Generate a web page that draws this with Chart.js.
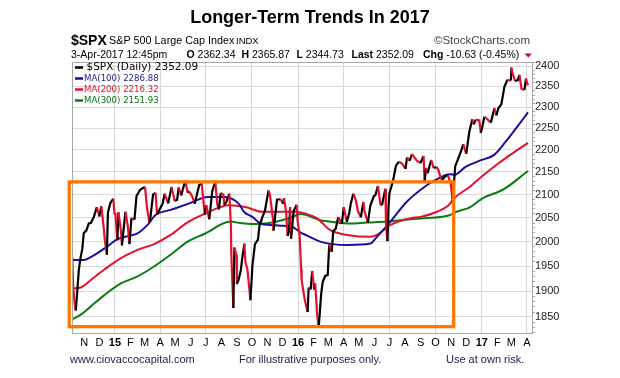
<!DOCTYPE html>
<html><head><meta charset="utf-8">
<script src="https://cdn.jsdelivr.net/npm/chart.js@4.4.1/dist/chart.umd.min.js"></script>
<style>html,body{margin:0;padding:0;background:#fff}#wrap{width:620px;height:378px;position:relative}canvas{display:block}</style>
</head><body><div id="wrap"><canvas id="c" width="620" height="378"></canvas></div>
<script>
// ---------- DATA ----------
const priceDates = ['2014-10-08','2014-10-10','2014-10-13','2014-10-15','2014-10-17','2014-10-21','2014-10-24','2014-10-28','2014-10-31','2014-11-05','2014-11-10','2014-11-14','2014-11-20','2014-11-26','2014-12-01','2014-12-05','2014-12-10','2014-12-12','2014-12-16','2014-12-18','2014-12-23','2014-12-29','2014-12-31',
'2015-01-02','2015-01-06','2015-01-08','2015-01-13','2015-01-15','2015-01-22','2015-01-27','2015-01-30','2015-02-03','2015-02-09','2015-02-13','2015-02-20','2015-02-25','2015-03-02','2015-03-06','2015-03-11','2015-03-13','2015-03-18','2015-03-23','2015-03-26','2015-03-31','2015-04-06','2015-04-10','2015-04-17','2015-04-24','2015-04-30','2015-05-05','2015-05-08','2015-05-13','2015-05-21','2015-05-26','2015-05-29','2015-06-04','2015-06-09','2015-06-12','2015-06-18','2015-06-23','2015-06-29','2015-07-02','2015-07-08','2015-07-14','2015-07-20','2015-07-24','2015-07-27','2015-07-31','2015-08-05','2015-08-07','2015-08-11','2015-08-17','2015-08-20','2015-08-21','2015-08-24','2015-08-25','2015-08-27','2015-08-31','2015-09-01','2015-09-04','2015-09-09','2015-09-11','2015-09-16','2015-09-18','2015-09-22','2015-09-28','2015-10-02','2015-10-07','2015-10-13','2015-10-16','2015-10-22','2015-10-27','2015-11-03','2015-11-06','2015-11-12','2015-11-13','2015-11-20','2015-11-27','2015-12-02','2015-12-04','2015-12-08','2015-12-11','2015-12-14','2015-12-16','2015-12-18','2015-12-23','2015-12-29','2015-12-31',
'2016-01-04','2016-01-07','2016-01-08','2016-01-13','2016-01-15','2016-01-20','2016-01-22','2016-01-26','2016-01-29','2016-02-02','2016-02-04','2016-02-08','2016-02-11','2016-02-16','2016-02-19','2016-02-24','2016-02-29','2016-03-03','2016-03-08','2016-03-11','2016-03-16','2016-03-21','2016-03-28','2016-04-01','2016-04-07','2016-04-12','2016-04-15','2016-04-20','2016-04-25','2016-04-29','2016-05-05','2016-05-10','2016-05-12','2016-05-19','2016-05-24','2016-05-31','2016-06-03','2016-06-08','2016-06-13','2016-06-16','2016-06-23','2016-06-24','2016-06-27','2016-06-29','2016-07-01','2016-07-08','2016-07-14','2016-07-20','2016-07-26','2016-08-02','2016-08-05','2016-08-10','2016-08-15','2016-08-19','2016-08-25','2016-09-01','2016-09-07','2016-09-09','2016-09-12','2016-09-15','2016-09-22','2016-09-27','2016-10-03','2016-10-07','2016-10-11','2016-10-14','2016-10-21','2016-10-25','2016-10-31','2016-11-04','2016-11-07','2016-11-09','2016-11-15','2016-11-21','2016-11-25','2016-12-01','2016-12-07','2016-12-13','2016-12-16','2016-12-20','2016-12-27','2016-12-30',
'2017-01-03','2017-01-06','2017-01-12','2017-01-19','2017-01-26','2017-01-30','2017-02-03','2017-02-09','2017-02-15','2017-02-21','2017-02-28','2017-03-01','2017-03-03','2017-03-08','2017-03-14','2017-03-17','2017-03-21','2017-03-27','2017-03-30','2017-03-31','2017-04-03'];
const priceValues = [1968,1906,1874,1862,1886,1941,1964,1985,2018,2023,2038,2039,2052,2073,2053,2075,2026,2002,1973,2061,2082,2091,2059,
2058,2003,2062,2023,1992,2063,2030,1995,2050,2046,2097,2110,2114,2117,2071,2040,2053,2100,2104,2057,2068,2080,2102,2081,2117,2086,2089,2116,2098,2131,2104,2107,2096,2080,2094,2121,2124,2057,2077,2047,2108,2128,2079,2068,2104,2100,2078,2084,2102,2035,1971,1893,1867,1988,1972,1914,1921,1942,1961,1996,1958,1943,1882,1951,1995,2004,2033,2052,2066,2109,2099,2046,2023,2089,2090,2080,2092,2063,2012,2022,2073,2006,2064,2078,2044,
2013,1943,1922,1890,1880,1859,1907,1903,1940,1903,1915,1854,1829,1895,1918,1930,1932,1994,1979,2022,2027,2052,2037,2073,2041,2061,2081,2102,2088,2065,2051,2084,2065,2040,2077,2097,2099,2119,2079,2077,2113,2037,2001,2071,2103,2130,2164,2173,2169,2157,2183,2175,2190,2184,2175,2170,2186,2128,2159,2147,2177,2159,2161,2153,2136,2133,2141,2143,2126,2085,2132,2163,2180,2198,2213,2191,2241,2271,2259,2270,2268,2239,
2258,2277,2271,2263,2297,2280,2297,2307,2349,2366,2364,2396,2383,2363,2365,2378,2344,2341,2369,2363,2352];

const ma100Dates = ['2014-10-08','2014-10-31','2014-11-14','2014-12-17','2015-01-06','2015-01-29','2015-02-15','2015-03-07','2015-03-23','2015-04-22','2015-06-01','2015-07-04','2015-08-07','2015-09-05','2015-09-15','2015-10-02','2015-10-18','2015-11-07','2015-12-03','2015-12-20','2016-01-06','2016-01-16','2016-02-14','2016-04-08','2016-05-24','2016-06-06','2016-07-03','2016-08-05','2016-09-14','2016-09-30','2016-10-30','2016-11-08','2016-11-29','2017-01-01','2017-01-25','2017-02-17','2017-03-09','2017-04-03'];
const ma100Values = [1962,1962,1968,1990,2005,2012,2017,2035,2056,2067,2082,2095,2095,2080,2063,2052,2038,2035,2033,2031,2019,2014,2000,1993,1996,2010,2042,2085,2121,2132,2145,2144,2161,2177,2188,2218,2248,2287];

const ma200Dates = ['2014-10-08','2014-10-25','2014-11-14','2014-12-11','2015-01-13','2015-02-15','2015-03-20','2015-04-22','2015-05-25','2015-06-30','2015-08-16','2015-09-18','2015-10-21','2015-11-23','2015-12-27','2016-01-16','2016-02-08','2016-03-05','2016-04-08','2016-05-24','2016-06-06','2016-07-03','2016-08-12','2016-09-01','2016-10-04','2016-10-27','2016-11-08','2016-12-09','2017-01-01','2017-02-04','2017-03-03','2017-04-03'];
const ma200Values = [1905,1907,1922,1943,1966,1983,1995,2014,2040,2059,2077,2073,2063,2063,2063,2059,2049,2024,2014,2010,2014,2035,2049,2052,2063,2077,2093,2118,2140,2170,2192,2216];

const ma300Dates = ['2014-10-08','2014-10-25','2014-11-14','2014-12-11','2015-01-13','2015-02-15','2015-03-20','2015-04-22','2015-05-26','2015-06-30','2015-08-19','2015-09-08','2015-10-01','2015-11-04','2015-12-07','2015-12-27','2016-01-06','2016-02-14','2016-03-12','2016-04-14','2016-05-17','2016-06-26','2016-07-23','2016-09-07','2016-10-30','2016-11-09','2016-12-09','2017-01-01','2017-02-14','2017-04-03'];
const ma300Values = [1845,1854,1870,1892,1915,1929,1949,1973,2000,2017,2042,2039,2037,2039,2047,2055,2058,2045,2041,2038,2040,2042,2045,2049,2056,2062,2073,2091,2112,2152];

const yTicks = [1850,1900,1950,2000,2050,2100,2150,2200,2250,2300,2350,2400];
const monthTicks = ['2014-11','2014-12','2015-01','2015-02','2015-03','2015-04','2015-05','2015-06','2015-07','2015-08','2015-09','2015-10','2015-11','2015-12','2016-01','2016-02','2016-03','2016-04','2016-05','2016-06','2016-07','2016-08','2016-09','2016-10','2016-11','2016-12','2017-01','2017-02','2017-03','2017-04'];
const monthLabels = ['N','D','15','F','M','A','M','J','J','A','S','O','N','D','16','F','M','A','M','J','J','A','S','O','N','D','17','F','M','A'];
const xRangeDates = ['2014-10-08','2017-04-11'];
const highlightDates = ['2014-10-02','2016-11-06'];
const highlightValues = [1831,2128];

const titleText = 'Longer-Term Trends In 2017';
const legendTexts = ['$SPX (Daily) 2352.09','MA(100) 2286.88','MA(200) 2216.32','MA(300) 2151.93'];
const quoteItems = [['O','2362.34'],['H','2365.87'],['L','2344.73'],['Last','2352.09'],['Chg','-10.63 (-0.45%)']];
const footerTexts = ['www.ciovaccocapital.com','For illustrative purposes only.','Use at own risk.'];

// ---------- HELPERS ----------
const ORIGIN = Date.UTC(2014, 9, 1);
function dayNum(s) { const p = s.split('-').map(Number); return (Date.UTC(p[0], p[1]-1, p[2] || 1) - ORIGIN) / 864e5; }
const pts = (ds, vs) => ds.map((d, i) => ({ x: dayNum(d), y: vs[i] }));

const RED = '#e5102e', BLACK = '#000000', BLUE = '#1e0d98', GREEN = '#0b7d12', ORANGE = '#ff7600';
const FONT = '"Liberation Sans", Arial, sans-serif';

const decor = {
  id: 'decor',
  beforeDraw(chart) {
    const c = chart.ctx; c.save(); c.fillStyle = '#fff'; c.fillRect(0, 0, chart.width, chart.height); c.restore();
  },
  afterDatasetsDraw(chart) {
    const c = chart.ctx, a = chart.chartArea, xs = chart.scales.x, ys = chart.scales.y;
    c.save();
    c.strokeStyle = '#a8a8a8'; c.lineWidth = 1;
    c.strokeRect(Math.round(a.left) + 0.5, Math.round(a.top) + 0.5, Math.round(a.right - a.left), Math.round(a.bottom - a.top));
    c.beginPath();
    for (let v = 1820; v <= 2410; v += 10) {
      if (v % 50 === 0) continue;
      const y = Math.round(ys.getPixelForValue(v)) + 0.5;
      if (y < a.top || y > a.bottom) continue;
      c.moveTo(a.right, y); c.lineTo(a.right + 3, y);
    }
    c.stroke();
    const x0 = xs.getPixelForValue(dayNum(highlightDates[0])), x1 = xs.getPixelForValue(dayNum(highlightDates[1]));
    const y0 = ys.getPixelForValue(highlightValues[1]), y1 = ys.getPixelForValue(highlightValues[0]);
    c.strokeStyle = ORANGE; c.lineWidth = 3.3;
    c.strokeRect(x0, y0, x1 - x0, y1 - y0);
    const colors = [BLACK, BLUE, RED, GREEN];
    const textColors = ['#000', '#1e1e8a', '#e5102e', '#0b6e12'];
    const rowsY = [67.5, 78.5, 89.5, 100.5];
    legendTexts.forEach((t, i) => {
      c.strokeStyle = colors[i]; c.lineWidth = 2.5;
      c.beginPath(); c.moveTo(75, rowsY[i]); c.lineTo(83, rowsY[i]); c.stroke();
      c.fillStyle = textColors[i]; c.textBaseline = 'middle'; c.textAlign = 'left';
      c.font = (i === 0 ? '10.5px' : '8.6px') + ' "DejaVu Sans", Verdana, sans-serif';
      c.fillText(t, i === 0 ? 86.5 : 84, rowsY[i]);
    });
    c.restore();
  },
  afterDraw(chart) {
    const c = chart.ctx;
    c.save();
    c.textBaseline = 'middle'; c.textAlign = 'center'; c.fillStyle = '#000';
    c.font = 'bold 18px ' + FONT;
    c.fillText(titleText, 310, 18);
    c.textAlign = 'left';
    c.font = 'bold 14px ' + FONT;
    c.fillText('$SPX', 71, 41);
    c.font = '10.8px ' + FONT;
    c.fillText('S&P 500 Large Cap Index', 109, 41);
    c.font = '9.5px ' + FONT;
    c.fillText('INDX', 236, 41.5);
    c.textAlign = 'right'; c.fillStyle = '#444'; c.font = '11.5px ' + FONT;
    c.fillText('\u00A9StockCharts.com', 530, 41);
    c.textAlign = 'left'; c.fillStyle = '#000';
    c.font = '10.5px ' + FONT;
    c.fillText('3-Apr-2017 12:45pm', 71, 55);
    const qx = [186.5, 241.5, 296.5, 351.5, 423];
    quoteItems.forEach((q, i) => {
      c.font = 'bold 10.5px ' + FONT;
      c.fillText(q[0], qx[i], 55);
      const w = c.measureText(q[0] + ' ').width;
      c.font = '10.5px ' + FONT;
      c.fillText(q[1], qx[i] + w, 55);
    });
    c.fillStyle = '#b01030';
    c.beginPath(); c.moveTo(524.5, 53.5); c.lineTo(532, 53.5); c.lineTo(528.2, 57.5); c.closePath(); c.fill();
    c.fillStyle = '#1c1c48'; c.font = '11px ' + FONT;
    c.fillText(footerTexts[0], 70, 360);
    c.fillText(footerTexts[1], 239, 360);
    c.fillText(footerTexts[2], 446, 360);
    c.restore();
  }
};

const tickIsYear = i => monthTicks[i] && monthTicks[i].endsWith('-01');
const tickIsQuarter = i => { const m = monthTicks[i] ? Number(monthTicks[i].split('-')[1]) : 2; return (m - 1) % 3 === 0; };

new Chart(document.getElementById('c'), {
  type: 'line',
  data: {
    datasets: [
      { label: '$SPX', data: pts(priceDates, priceValues), borderColor: BLACK, borderWidth: 2.2, pointRadius: 0, tension: 0,
        segment: { borderColor: ctx => ctx.p1.parsed.y < ctx.p0.parsed.y ? RED : BLACK } },
      { label: 'MA(100)', data: pts(ma100Dates, ma100Values), borderColor: BLUE, borderWidth: 2, pointRadius: 0, cubicInterpolationMode: 'monotone' },
      { label: 'MA(200)', data: pts(ma200Dates, ma200Values), borderColor: RED, borderWidth: 2, pointRadius: 0, cubicInterpolationMode: 'monotone' },
      { label: 'MA(300)', data: pts(ma300Dates, ma300Values), borderColor: GREEN, borderWidth: 2, pointRadius: 0, cubicInterpolationMode: 'monotone' }
    ]
  },
  options: {
    responsive: false, animation: false, devicePixelRatio: 1,
    layout: { padding: { left: 72, right: 48, top: 62, bottom: 23 } },
    plugins: { legend: { display: false }, tooltip: { enabled: false }, title: { display: false } },
    scales: {
      x: {
        type: 'linear', min: dayNum(xRangeDates[0]) - 0.5, max: dayNum(xRangeDates[1]),
        afterBuildTicks: s => { s.ticks = monthTicks.map(m => ({ value: dayNum(m + '-01') })); },
        afterFit: s => { s.height = 22; },
        ticks: { autoSkip: false, maxRotation: 0, minRotation: 0, padding: 3, color: '#000',
          font: ctx => ({ family: FONT, size: 11, weight: tickIsYear(ctx.index) ? 'bold' : 'normal' }),
          callback: (v, i) => monthLabels[i] },
        grid: { color: ctx => tickIsQuarter(ctx.index) ? '#d6d6d6' : 'rgba(0,0,0,0)', drawTicks: false, lineWidth: 1 },
        border: { display: false }
      },
      y: {
        type: 'logarithmic', position: 'right', min: 1819, max: 2410,
        afterBuildTicks: s => { s.ticks = yTicks.map(v => ({ value: v })); },
        afterFit: s => { s.width = 40; },
        ticks: { autoSkip: false, padding: 3, color: '#222', font: { family: FONT, size: 11 }, callback: v => String(v) },
        grid: { color: '#dcdcdc', drawTicks: false, lineWidth: 1 },
        border: { display: false }
      }
    }
  },
  plugins: [decor]
});
</script></body></html>
